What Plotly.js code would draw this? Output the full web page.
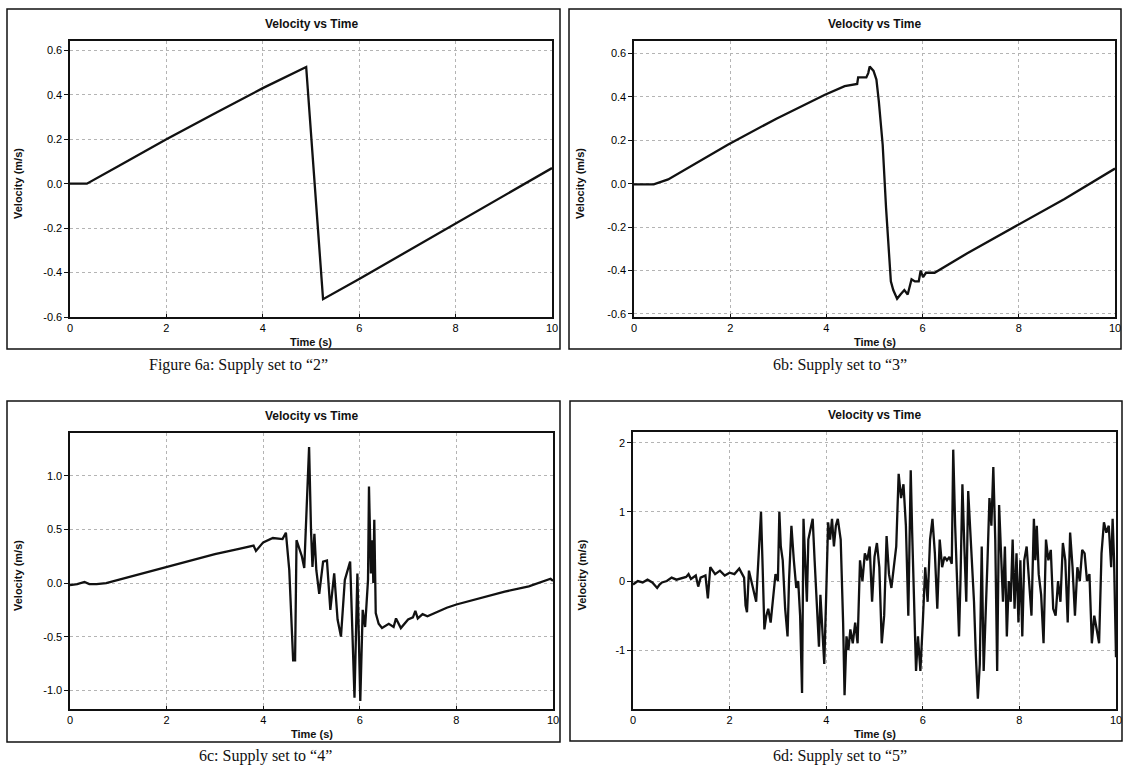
<!DOCTYPE html>
<html>
<head>
<meta charset="utf-8">
<script src="https://cdn.plot.ly/plotly-3.0.1.min.js"></script>
<style>
html,body{margin:0;padding:0;background:#fff;}
#chart{width:1124px;height:767px;}
</style>
</head>
<body>
<div id="chart"></div>
<script>
// ---------- DATA ----------
const chartTitle = "Velocity vs Time";
const xAxisTitle = "Time (s)";
const yAxisTitle = "Velocity (m/s)";
const captions = ["Figure 6a: Supply set to \u201c2\u201d", "6b: Supply set to \u201c3\u201d", "6c: Supply set to \u201c4\u201d", "6d: Supply set to \u201c5\u201d"];

const xTickVals = [0, 2, 4, 6, 8, 10];
const xTickText = ["0", "2", "4", "6", "8", "10"];

const yTickValsAB = [-0.6, -0.4, -0.2, 0.0, 0.2, 0.4, 0.6];
const yTickTextAB = ["-0.6", "-0.4", "-0.2", "0.0", "0.2", "0.4", "0.6"];
const yTickValsC = [-1.0, -0.5, 0.0, 0.5, 1.0];
const yTickTextC = ["-1.0", "-0.5", "0.0", "0.5", "1.0"];
const yTickValsD = [-1, 0, 1, 2];
const yTickTextD = ["-1", "0", "1", "2"];

// Figure 6a
const tA = [0, 0.35, 1, 2, 3, 4, 4.9, 5.25, 6, 7, 8, 9, 10];
const vA = [0, 0, 0.078, 0.2, 0.316, 0.43, 0.525, -0.52, -0.429, -0.304, -0.18, -0.055, 0.07];

// Figure 6b
const tB = [0, 0.41, 0.71, 0.94, 1.95, 2.96, 3.97, 4.38, 4.64, 4.66, 4.83, 4.87, 4.9, 4.98, 5.04, 5.09, 5.17, 5.24, 5.3, 5.34, 5.39, 5.47, 5.54, 5.62, 5.69, 5.77, 5.84, 5.92, 5.96, 6.01, 6.07, 6.25, 6.93, 7.98, 8.95, 10];
const vB = [-0.003, -0.003, 0.02, 0.05, 0.18, 0.30, 0.41, 0.45, 0.46, 0.49, 0.49, 0.51, 0.54, 0.52, 0.48, 0.38, 0.18, -0.11, -0.29, -0.45, -0.49, -0.53, -0.51, -0.49, -0.51, -0.44, -0.45, -0.45, -0.40, -0.43, -0.41, -0.41, -0.32, -0.19, -0.07, 0.07];

// Figure 6c
const tC = [0, 0.15, 0.3, 0.4, 0.55, 0.75, 1.0, 1.5, 2.0, 2.5, 3.0, 3.5, 3.8, 3.85, 3.9, 4.0, 4.2, 4.4, 4.47, 4.54, 4.62, 4.66, 4.69, 4.8, 4.85, 4.9, 4.95, 4.99, 5.02, 5.06, 5.1, 5.16, 5.24, 5.32, 5.39, 5.47, 5.54, 5.61, 5.69, 5.8, 5.87, 5.89, 5.95, 6.01, 6.06, 6.11, 6.17, 6.19, 6.23, 6.26, 6.28, 6.3, 6.33, 6.39, 6.46, 6.6, 6.7, 6.75, 6.85, 7.0, 7.1, 7.15, 7.2, 7.3, 7.4, 7.6, 7.8, 8.0, 8.5, 9.0, 9.5, 9.95, 10];
const vC = [-0.02, -0.01, 0.01, -0.01, -0.01, 0.0, 0.03, 0.09, 0.15, 0.21, 0.27, 0.32, 0.35, 0.30, 0.33, 0.38, 0.42, 0.41, 0.47, 0.12, -0.72, -0.72, 0.40, 0.25, 0.14, 0.8, 1.27, 0.49, 0.15, 0.46, 0.12, -0.1, 0.2, 0.21, -0.25, 0.09, -0.34, -0.5, 0.03, 0.2, -0.75, -1.07, 0.09, -1.1, -0.25, -0.41, 0.03, 0.9, 0.09, 0.4, 0.0, 0.59, -0.28, -0.38, -0.42, -0.38, -0.41, -0.33, -0.42, -0.34, -0.32, -0.26, -0.33, -0.29, -0.31, -0.27, -0.23, -0.2, -0.14, -0.08, -0.03, 0.04, 0.02];

// Figure 6d
const tD = [0, 0.1, 0.2, 0.3, 0.4, 0.5, 0.55, 0.6, 0.7, 0.8, 0.9, 1.0, 1.1, 1.15, 1.2, 1.3, 1.35, 1.4, 1.5, 1.55, 1.6, 1.7, 1.8, 1.9, 2.0, 2.1, 2.2, 2.3, 2.33, 2.36, 2.4, 2.45, 2.5, 2.55, 2.58, 2.62, 2.65, 2.68, 2.72, 2.76, 2.8, 2.85, 2.9, 2.95, 3.0, 3.03, 3.06, 3.1, 3.15, 3.2, 3.23, 3.28, 3.33, 3.38, 3.42, 3.46, 3.5, 3.53, 3.57, 3.6, 3.63, 3.68, 3.72, 3.76, 3.8, 3.85, 3.88, 3.92, 3.96, 4.0, 4.04, 4.08, 4.12, 4.16, 4.2, 4.24, 4.3, 4.35, 4.38, 4.42, 4.46, 4.5, 4.55, 4.6, 4.65, 4.7, 4.75, 4.8, 4.85, 4.9, 4.95, 5.0, 5.05, 5.1, 5.15, 5.2, 5.25, 5.3, 5.35, 5.4, 5.45, 5.5, 5.55, 5.6, 5.65, 5.7, 5.75, 5.78, 5.82, 5.86, 5.9, 5.95, 6.0, 6.05, 6.1, 6.15, 6.2, 6.25, 6.3, 6.35, 6.4, 6.45, 6.5, 6.55, 6.6, 6.63, 6.67, 6.72, 6.75, 6.78, 6.82, 6.86, 6.9, 6.94, 6.98, 7.02, 7.06, 7.1, 7.14, 7.18, 7.22, 7.26, 7.3, 7.34, 7.38, 7.42, 7.46, 7.5, 7.54, 7.58, 7.62, 7.66, 7.7, 7.74, 7.78, 7.82, 7.86, 7.9, 7.94, 7.98, 8.02, 8.06, 8.1, 8.15, 8.2, 8.25, 8.3, 8.33, 8.36, 8.4, 8.45, 8.5, 8.55, 8.6, 8.65, 8.7, 8.75, 8.8, 8.85, 8.9, 8.95, 9.0, 9.05, 9.1, 9.15, 9.2, 9.25, 9.3, 9.35, 9.4, 9.45, 9.5, 9.55, 9.6, 9.65, 9.7, 9.75, 9.8, 9.85, 9.9, 9.93, 9.96, 10.0];
const vD = [-0.05, 0.0, -0.02, 0.02, -0.02, -0.1, -0.05, -0.02, 0.0, 0.05, 0.02, 0.04, 0.06, 0.1, 0.03, 0.08, -0.08, 0.05, 0.08, -0.25, 0.2, 0.1, 0.15, 0.08, 0.12, 0.1, 0.18, 0.05, -0.35, -0.45, 0.15, 0.0, -0.15, -0.3, 0.1, 0.55, 1.0, 0.3, -0.7, -0.5, -0.4, -0.6, -0.2, 0.1, 0.0, 1.0, 0.5, 0.3, -0.4, -0.8, 0.0, 0.8, 0.3, -0.1, 0.0, -0.5, -1.62, 0.9, 0.2, -0.3, 0.6, 0.8, 0.9, 0.3, -0.3, -0.95, -0.2, -0.7, -1.2, -0.2, 0.85, 0.6, 0.9, 0.5, 0.8, 0.9, 0.6, -0.6, -1.65, -0.8, -1.0, -0.7, -0.9, -0.6, -0.9, 0.3, 0.0, 0.4, 0.3, 0.5, -0.3, 0.35, 0.55, 0.2, -0.9, -0.5, 0.65, 0.1, -0.1, 0.2, 0.5, 1.55, 1.2, 1.4, 0.8, -0.5, 1.6, 0.7, -0.5, -1.3, -0.8, -1.3, -0.6, 0.2, -0.3, 0.6, 0.9, 0.4, -0.4, 0.6, 0.2, 0.35, 0.3, 0.35, 0.25, 1.9, 0.8, -0.4, -0.8, 0.0, 1.4, 0.5, -0.3, 1.3, 0.8, 0.3, -0.3, -1.1, -1.7, -1.2, 0.5, -1.3, -0.6, 0.3, 1.2, 0.8, 1.65, 0.6, -1.3, 1.1, 0.4, -0.3, 0.5, -0.8, 0.0, -0.3, 0.6, -0.4, 0.4, -0.6, 0.3, -0.8, 0.3, 0.5, 0.0, -0.5, 0.9, 0.3, 0.8, 0.1, -0.2, -0.9, 0.6, 0.3, 0.45, -0.4, -0.5, 0.0, -0.3, 0.55, 0.3, -0.6, 0.7, 0.2, -0.5, 0.2, 0.0, 0.45, 0.4, 0.0, 0.1, -0.9, -0.5, -0.7, -0.9, 0.4, 0.85, 0.7, 0.8, 0.2, 0.9, 0.3, -1.1];

// ---------- LAYOUT ----------
const W = 1124, H = 767;
const px = x => x / W;
const py = y => 1 - y / H;

const panels = [
  {t: tA, v: vA, plot: [70, 41, 552, 317], frame: [7, 9, 560, 349], yr: [-0.6, 0.642], tv: yTickValsAB, tt: yTickTextAB, cap: [238, 365]},
  {t: tB, v: vB, plot: [634, 41, 1115, 317], frame: [569, 9, 1121, 349], yr: [-0.614, 0.658], tv: yTickValsAB, tt: yTickTextAB, cap: [840, 365]},
  {t: tC, v: vC, plot: [70, 433, 553, 709], frame: [7, 401, 560, 742], yr: [-1.175, 1.40], tv: yTickValsC, tt: yTickTextC, cap: [265, 756]},
  {t: tD, v: vD, plot: [633, 432, 1116, 709], frame: [570, 401, 1122, 741], yr: [-1.85, 2.155], tv: yTickValsD, tt: yTickTextD, cap: [840, 756]}
];

const traces = [];
const layout = {
  width: W, height: H,
  margin: {l: 0, r: 0, t: 0, b: 0},
  paper_bgcolor: "#ffffff",
  plot_bgcolor: "#ffffff",
  showlegend: false,
  font: {family: "Liberation Sans, Arial, sans-serif", color: "#111"},
  shapes: [],
  annotations: []
};

panels.forEach((p, i) => {
  const n = i === 0 ? "" : String(i + 1);
  traces.push({
    x: p.t, y: p.v, type: "scatter", mode: "lines",
    xaxis: "x" + n, yaxis: "y" + n,
    line: {color: "#111111", width: 2.3}, hoverinfo: "skip"
  });
  const [l, t, r, b] = p.plot;
  layout["xaxis" + n] = {
    domain: [px(l), px(r)], anchor: "y" + n, range: [0, 10],
    tickvals: xTickVals, ticktext: xTickText,
    showgrid: true, gridcolor: "#b4b4b4", griddash: "dot", gridwidth: 1,
    zeroline: false, showline: true, linecolor: "#111", linewidth: 1.6, mirror: true,
    ticks: "inside", ticklen: 3, tickcolor: "#111",
    tickfont: {family: "Liberation Sans, Arial, sans-serif", size: 11, color: "#000"},
    fixedrange: true
  };
  layout["yaxis" + n] = {
    domain: [py(b), py(t)], anchor: "x" + n, range: p.yr,
    tickvals: p.tv, ticktext: p.tt,
    showgrid: true, gridcolor: "#b4b4b4", griddash: "dot", gridwidth: 1,
    zeroline: false, showline: true, linecolor: "#111", linewidth: 1.6, mirror: true,
    ticks: "outside", ticklen: 4, tickcolor: "#111",
    tickfont: {family: "Liberation Sans, Arial, sans-serif", size: 11, color: "#000"},
    fixedrange: true
  };
  const [fl, ft, fr, fb] = p.frame;
  layout.shapes.push({
    type: "rect", xref: "paper", yref: "paper",
    x0: px(fl), x1: px(fr), y0: py(fb), y1: py(ft),
    line: {color: "#111", width: 1.5}, fillcolor: "rgba(0,0,0,0)"
  });
  const cx = (l + r) / 2;
  layout.annotations.push({
    text: "<b>" + chartTitle + "</b>", xref: "paper", yref: "paper",
    x: px(cx), y: py(t - 17), xanchor: "center", yanchor: "middle", showarrow: false,
    font: {family: "Liberation Sans, Arial, sans-serif", size: 12, color: "#111"}
  });
  layout.annotations.push({
    text: "<b>" + xAxisTitle + "</b>", xref: "paper", yref: "paper",
    x: px(cx), y: py(b + 25), xanchor: "center", yanchor: "middle", showarrow: false,
    font: {family: "Liberation Sans, Arial, sans-serif", size: 11, color: "#111"}
  });
  layout.annotations.push({
    text: "<b>" + yAxisTitle + "</b>", xref: "paper", yref: "paper",
    x: px(fl + 11), y: py((t + b) / 2 + 5), xanchor: "center", yanchor: "middle", showarrow: false,
    textangle: -90,
    font: {family: "Liberation Sans, Arial, sans-serif", size: 11, color: "#111"}
  });
  layout.annotations.push({
    text: captions[i], xref: "paper", yref: "paper",
    x: px(p.cap[0]), y: py(p.cap[1]), xanchor: "center", yanchor: "middle", showarrow: false,
    font: {family: "Liberation Serif, Times New Roman, serif", size: 16, color: "#111"}
  });
});

Plotly.newPlot("chart", traces, layout, {staticPlot: true, displayModeBar: false});
</script>
</body>
</html>
